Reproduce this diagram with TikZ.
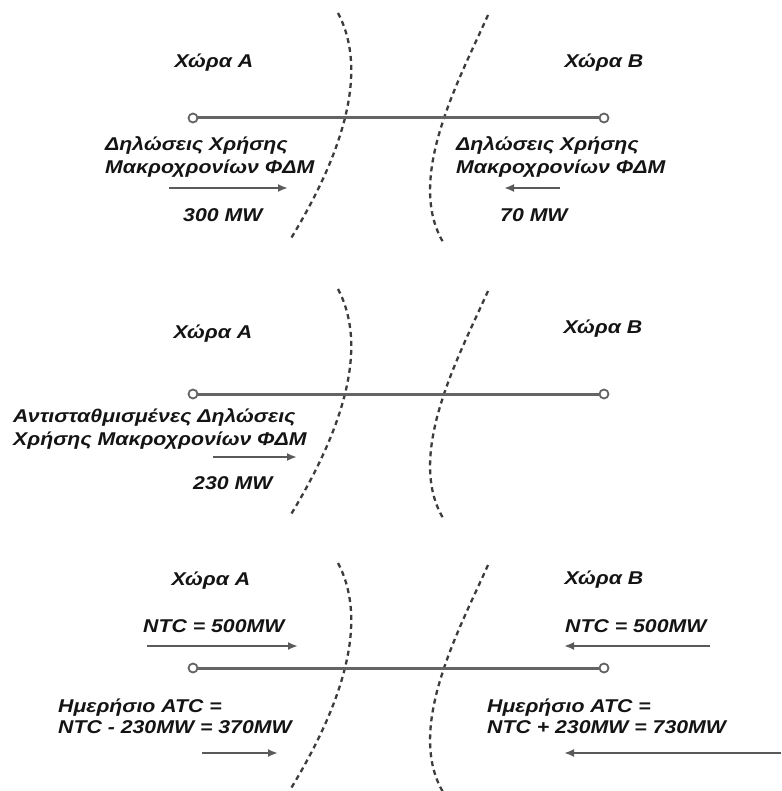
\documentclass[tikz,border=0pt]{standalone}
\usepackage{fontspec}
\newfontfamily\lab{Liberation Sans}[FakeStretch=1.15]
\usetikzlibrary{arrows.meta}
\definecolor{txtc}{RGB}{20,20,20}
\definecolor{linec}{RGB}{90,90,90}
\definecolor{tiec}{RGB}{100,100,100}
\definecolor{dashc}{RGB}{60,60,60}
\tikzset{
  lbl/.style={font=\lab\fontsize{18.5}{23}\selectfont\bfseries\itshape, text=txtc, inner sep=0pt},
  endpt/.style={circle, draw=tiec, fill=white, line width=1.8pt, minimum size=9pt, inner sep=0pt},
  tieline/.style={draw=tiec, line width=3pt},
  flow/.style={draw=linec, line width=2.6pt, -{Latex[length=10pt,width=8pt]}},
  border/.style={draw=dashc, line width=2.3pt, dash pattern=on 5pt off 4pt}
}
\newcommand{\borders}[1]{%
  \draw[border] (338,#1-105) .. controls (368,#1-48) and (345,#1+32) .. (290,#1+122);
  \draw[border] (488,#1-103) .. controls (460,#1-40) and (405,#1+60) .. (443,#1+124);
}
\begin{document}
\begin{tikzpicture}[x=1pt,y=-1pt]
\useasboundingbox (0,0) rectangle (781,791);
\fill[white] (0,0) rectangle (781,791);

% ---------- Panel 1 ----------
\borders{118}
\node[endpt] (p1l) at (193,118) {};
\node[endpt] (p1r) at (604,118) {};
\draw[tieline] (p1l) -- (p1r);
\node[lbl, anchor=base] (ca1) at (214,68) {Χώρα A};
\node[lbl, anchor=base] (cb1) at (604,68) {Χώρα B};
\node[lbl, anchor=base west] (d1a) at (105,151) {Δηλώσεις Χρήσης};
\node[lbl, anchor=base west] (d1b) at (105,174) {Μακροχρονίων ΦΔΜ};
\node[lbl, anchor=base west] (d1c) at (456,151) {Δηλώσεις Χρήσης};
\node[lbl, anchor=base west] (d1d) at (456,174) {Μακροχρονίων ΦΔΜ};
\coordinate (f1s) at (169,188); \coordinate (f1e) at (288,188);
\draw[flow] (f1s) -- (f1e);
\coordinate (g1s) at (560,188); \coordinate (g1e) at (504,188);
\draw[flow] (g1s) -- (g1e);
\node[lbl, anchor=base west] (v1a) at (183,222) {300 MW};
\node[lbl, anchor=base west] (v1b) at (500,222) {70 MW};

% ---------- Panel 2 ----------
\borders{394}
\node[endpt] (p2l) at (193,394) {};
\node[endpt] (p2r) at (604,394) {};
\draw[tieline] (p2l) -- (p2r);
\node[lbl, anchor=base] (ca2) at (213,338) {Χώρα A};
\node[lbl, anchor=base] (cb2) at (603,333) {Χώρα B};
\node[lbl, anchor=base west] (d2a) at (13,422) {Αντισταθμισμένες Δηλώσεις};
\node[lbl, anchor=base west] (d2b) at (13,445) {Χρήσης Μακροχρονίων ΦΔΜ};
\coordinate (f2s) at (213,457); \coordinate (f2e) at (297,457);
\draw[flow] (f2s) -- (f2e);
\node[lbl, anchor=base west] (v2a) at (193,489) {230 MW};

% ---------- Panel 3 ----------
\borders{668}
\node[endpt] (p3l) at (193,668) {};
\node[endpt] (p3r) at (604,668) {};
\draw[tieline] (p3l) -- (p3r);
\node[lbl, anchor=base] (ca3) at (211,585) {Χώρα A};
\node[lbl, anchor=base] (cb3) at (604,584) {Χώρα B};
\node[lbl, anchor=base west] (n3a) at (143,632) {NTC = 500MW};
\node[lbl, anchor=base west] (n3b) at (565,632) {NTC = 500MW};
\coordinate (f3s) at (147,646); \coordinate (f3e) at (298,646);
\draw[flow] (f3s) -- (f3e);
\coordinate (g3s) at (710,646); \coordinate (g3e) at (564,646);
\draw[flow] (g3s) -- (g3e);
\node[lbl, anchor=base west] (a3a) at (58,712) {Ημερήσιο ATC =};
\node[lbl, anchor=base west] (a3b) at (58,733) {NTC - 230MW = 370MW};
\node[lbl, anchor=base west] (a3c) at (487,712) {Ημερήσιο ATC =};
\node[lbl, anchor=base west] (a3d) at (487,733) {NTC + 230MW = 730MW};
\coordinate (f4s) at (202,753); \coordinate (f4e) at (278,753);
\draw[flow] (f4s) -- (f4e);
\coordinate (g4s) at (781,753); \coordinate (g4e) at (564,753);
\draw[flow] (g4s) -- (g4e);
\end{tikzpicture}
\end{document}
